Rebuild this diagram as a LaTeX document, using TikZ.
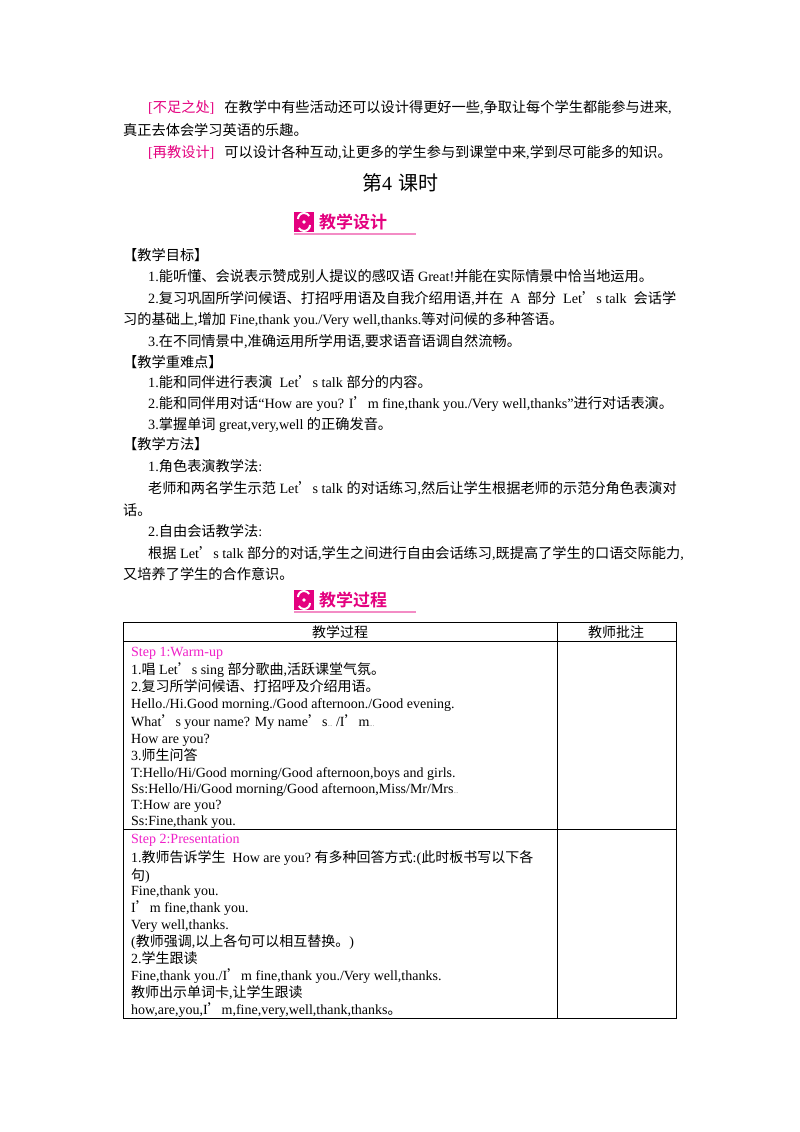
\documentclass[tikz,border=0pt]{standalone}
\usepackage{fontspec}
\setmainfont{Liberation Serif}
\newfontfamily\cjk{Noto Sans CJK SC}
\newfontfamily\cjkb{Noto Sans CJK SC Bold}
\newcommand\C[1]{{\cjk #1}}
\newcommand\ap{{\cjk ’}}
\definecolor{mag}{HTML}{E4007F}
\definecolor{stp}{HTML}{F020C8}
\begin{document}
\begin{tikzpicture}[x=1pt,y=-1pt,
 t/.style={anchor=base west,inner sep=0,font=\fontsize{14.2}{15}\selectfont},
 tb/.style={anchor=base west,inner sep=0,font=\fontsize{14}{15}\selectfont},
 bt/.style={anchor=west,inner sep=0,font=\cjkb\fontsize{17}{18}\selectfont,text=mag}]
\useasboundingbox (0,0) rectangle (800,1132);
\fill[white] (0,0) rectangle (800,1132);
% top paragraphs
\node[t] (a1) at (148,112) {\textcolor{mag}{[\C{不足之处}]}\hspace{10pt}\C{在教学中有些活动还可以设计得更好一些}{,}\C{争取让每个学生都能参与进来}{,}};
\node[t] (a2) at (123,135) {\C{真正去体会学习英语的乐趣。}};
\node[t] (a3) at (148,157) {\textcolor{mag}{[\C{再教设计}]}\hspace{10pt}\C{可以设计各种互动}{,}\C{让更多的学生参与到课堂中来}{,}\C{学到尽可能多的知识。}};
\node[anchor=base,inner sep=0,font=\fontsize{20}{21}\selectfont] (title) at (400,190) {\C{第}4\hspace{6pt}\C{课时}};
% badges
\foreach \yy/\tx/\nm in {222/教学设计/b1,600/教学过程/b2}{
 \fill[mag] (294,\yy-10) rectangle (314,\yy+10);
 \draw[white,line width=2pt] (304,\yy) ++(-6,-3) arc (180:330:6) (304,\yy) ++(6,3) arc (0:150:6);
 \fill[white] (304,\yy) circle (1.8);
 \draw[mag!45,line width=1.6pt] (294,\yy+12) -- (416,\yy+12);
 \node[bt] (\nm) at (319,\yy) {\tx};
}
% objectives
\node[t] at (123,260) {\C{【教学目标】}};
\node[t] at (148,281) {1.\C{能听懂、会说表示赞成别人提议的感叹语} Great!\C{并能在实际情景中恰当地运用。}};
\node[t] at (148,303) {2.\C{复习巩固所学问候语、打招呼用语及自我介绍用语}{,}\C{并在}\ \ A\ \ \C{部分}\ \ Let\ap s talk\ \ \C{会话学}};
\node[t] at (123,324) {\C{习的基础上}{,}\C{增加} Fine,thank you./Very well,thanks.\C{等对问候的多种答语。}};
\node[t] at (148,346) {3.\C{在不同情景中}{,}\C{准确运用所学用语}{,}\C{要求语音语调自然流畅。}};
\node[t] at (123,367) {\C{【教学重难点】}};
\node[t] at (148,387) {1.\C{能和同伴进行表演}\ \ Let\ap s talk \C{部分的内容。}};
\node[t] at (148,408) {2.\C{能和同伴用对话}“How are you? I\ap m fine,thank you./Very well,thanks”\C{进行对话表演。}};
\node[t] at (148,429) {3.\C{掌握单词} great,very,well \C{的正确发音。}};
\node[t] at (123,449) {\C{【教学方法】}};
\node[t] at (148,471) {1.\C{角色表演教学法}:};
\node[t] at (148,493) {\C{老师和两名学生示范} Let\ap s talk \C{的对话练习}{,}\C{然后让学生根据老师的示范分角色表演对}};
\node[t] at (123,515) {\C{话。}};
\node[t] at (148,536) {2.\C{自由会话教学法}:};
\node[t] at (148,558) {\C{根据} Let\ap s talk \C{部分的对话}{,}\C{学生之间进行自由会话练习}{,}\C{既提高了学生的口语交际能力}{,}};
\node[t] at (123,579) {\C{又培养了学生的合作意识。}};
% table
\draw[line width=0.8pt] (123,622) rectangle (676,1018);
\draw[line width=0.8pt] (123,641) -- (676,641) (123,829) -- (676,829) (557,622) -- (557,1018);
\node[anchor=center,inner sep=0,font=\cjk\fontsize{14}{15}\selectfont] (h1) at (340,632) {教学过程};
\node[anchor=center,inner sep=0,font=\cjk\fontsize{14}{15}\selectfont] (h2) at (616,632) {教师批注};
\node[tb,text=stp] at (131,656) {Step 1:Warm-up};
\node[tb] at (131,674) {1.\C{唱} Let\ap s sing \C{部分歌曲}{,}\C{活跃课堂气氛。}};
\node[tb] at (131,691) {2.\C{复习所学问候语、打招呼及介绍用语。}};
\node[tb] at (131,708) {Hello./Hi.Good morning./Good afternoon./Good evening.};
\node[tb] at (131,726) {What\ap s your name? My name\ap s{\tiny…} /I\ap m{\tiny…}};
\node[tb] at (131,743) {How are you?};
\node[tb] at (131,760) {3.\C{师生问答}};
\node[tb] at (131,777) {T:Hello/Hi/Good morning/Good afternoon,boys and girls.};
\node[tb] at (131,793) {Ss:Hello/Hi/Good morning/Good afternoon,Miss/Mr/Mrs{\tiny…}};
\node[tb] at (131,809) {T:How are you?};
\node[tb] at (131,825) {Ss:Fine,thank you.};
\node[tb,text=stp] at (131,843) {Step 2:Presentation};
\node[tb] at (131,862) {1.\C{教师告诉学生}\ \ How are you?\ \C{有多种回答方式}:(\C{此时板书写以下各}};
\node[tb] at (131,880) {\C{句})};
\node[tb] at (131,895) {Fine,thank you.};
\node[tb] at (131,912) {I\ap m fine,thank you.};
\node[tb] at (131,929) {Very well,thanks.};
\node[tb] at (131,946) {(\C{教师强调}{,}\C{以上各句可以相互替换。})};
\node[tb] at (131,963) {2.\C{学生跟读}};
\node[tb] at (131,980) {Fine,thank you./I\ap m fine,thank you./Very well,thanks.};
\node[tb] at (131,997) {\C{教师出示单词卡}{,}\C{让学生跟读}};
\node[tb] at (131,1014) {how,are,you,I\ap m,fine,very,well,thank,thanks\C{。}};
\end{tikzpicture}
\end{document}
